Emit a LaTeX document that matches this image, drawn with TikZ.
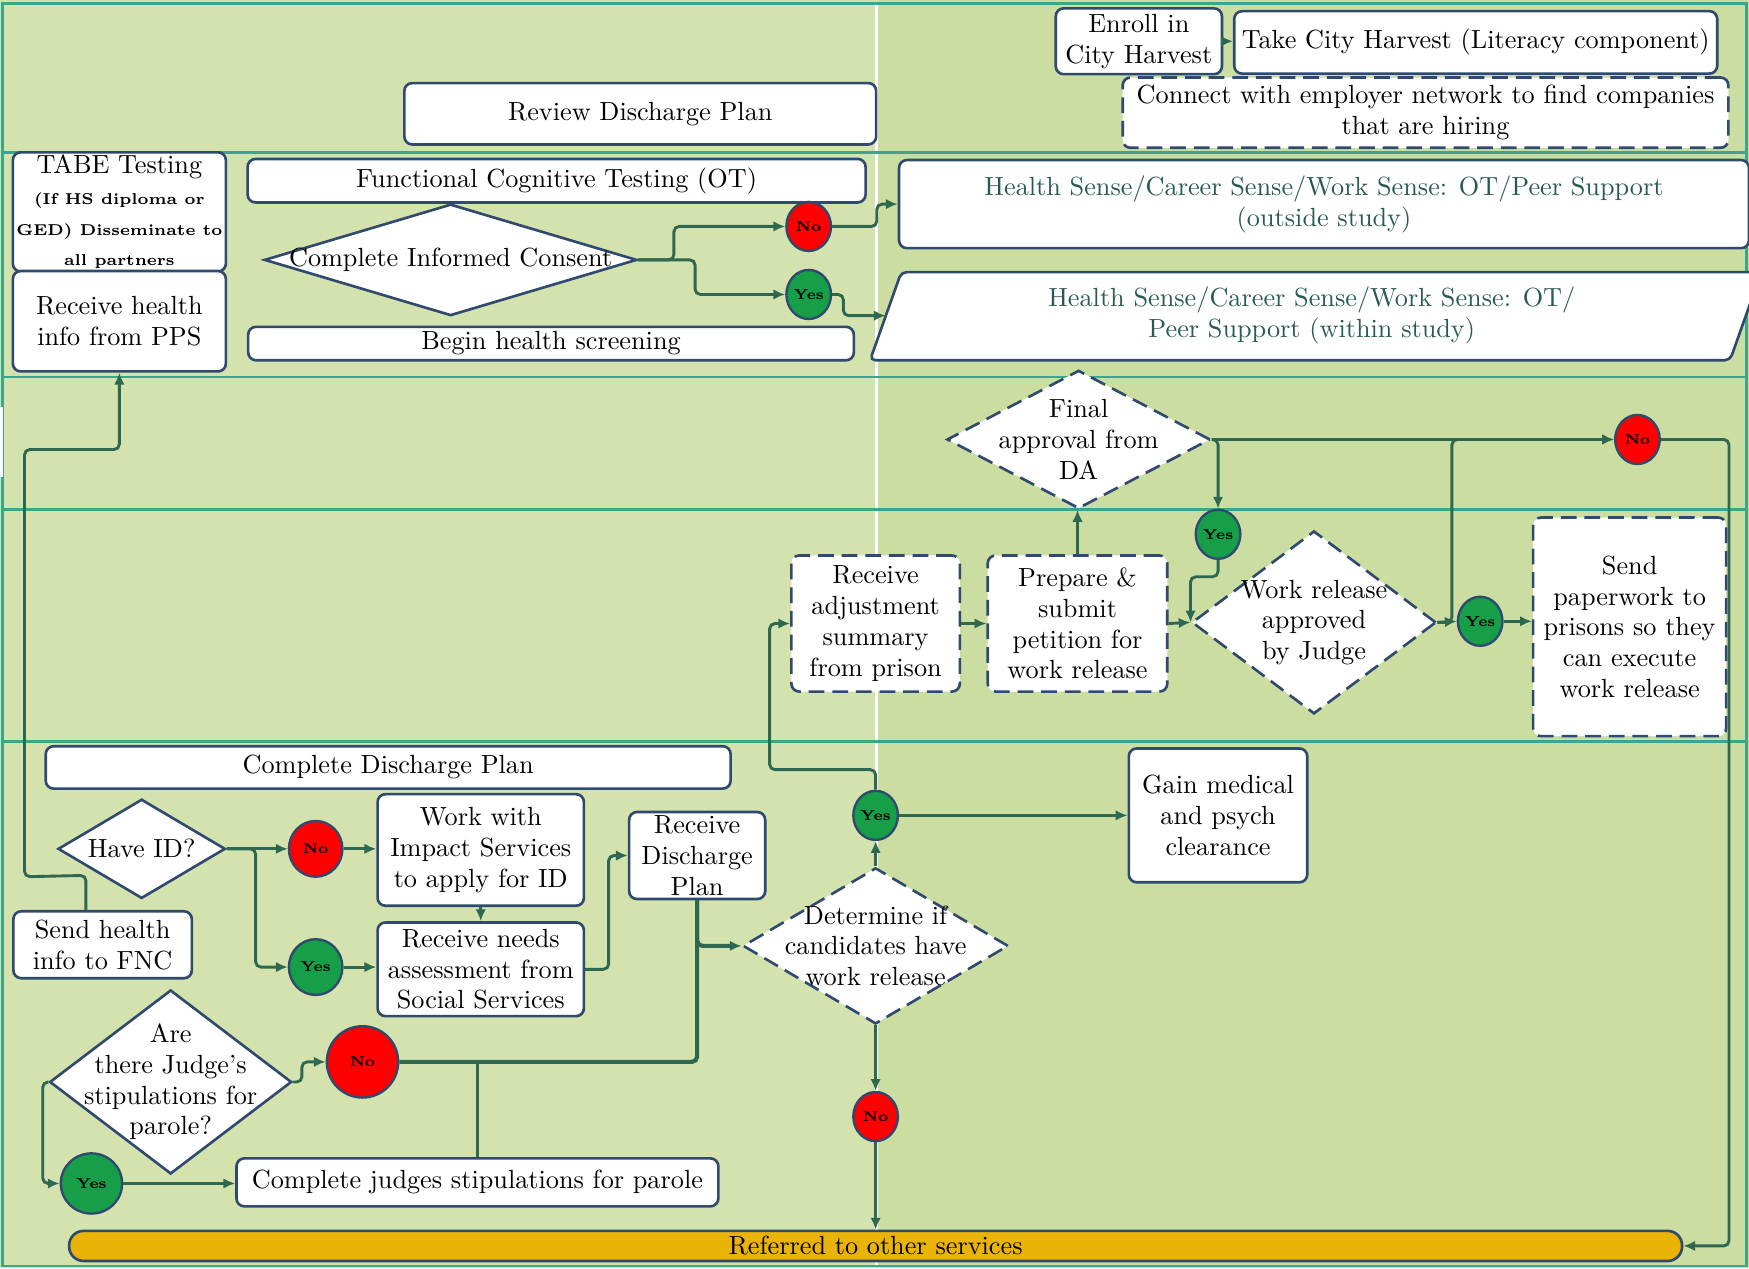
\documentclass[tikz,border=0pt]{standalone}
\usetikzlibrary{shapes.geometric, arrows.meta}

\definecolor{laneleft}{RGB}{212,226,174}
\definecolor{laneright}{RGB}{203,221,160}
\definecolor{laneline}{RGB}{58,166,140}
\definecolor{boxline}{RGB}{47,74,110}
\definecolor{flowgreen}{RGB}{46,104,80}
\definecolor{nored}{RGB}{255,0,0}
\definecolor{yesgreen}{RGB}{22,158,72}
\definecolor{gold}{RGB}{233,179,8}
\definecolor{tealtext}{RGB}{40,90,80}

\newcommand{\dotfont}{\fontsize{5.5}{6}\bfseries\selectfont}
\newcommand{\tabefont}{\fontsize{6}{9}\bfseries\selectfont}

\begin{document}
\begin{tikzpicture}[x=0.425pt, y=-0.425pt,
	every node/.style={font=\fontsize{10}{11.7}\selectfont, align=center, inner sep=1pt},
	sz/.style 2 args={minimum width=#1*0.425pt, minimum height=#2*0.425pt},
	box/.style={draw=boxline, line width=1pt, fill=white, rounded corners=3pt},
	dbox/.style={box, dash pattern=on 6pt off 3pt},
	decide/.style={diamond, draw=boxline, line width=1pt, fill=white, inner sep=0pt},
	ddecide/.style={decide, dash pattern=on 6pt off 3pt},
	dot/.style={ellipse, draw=boxline, line width=0.9pt, inner sep=0pt, font=\dotfont, sz={40}{44}},
	nodot/.style={dot, fill=nored},
	yesdot/.style={dot, fill=yesgreen},
	pill/.style={draw=boxline, line width=1pt, fill=gold, rounded corners=5.5pt},
	link/.style={draw=flowgreen, line width=1.1pt, rounded corners=2pt},
	flow/.style={link, -{Latex[length=4.5pt, width=4pt]}}]
	\useasboundingbox (0,0) rectangle (1568,1137);

	% lanes
	\fill[laneleft] (0,0) rectangle (786,1137);
	\fill[laneright] (786,0) rectangle (1568,1137);
	\draw[white, line width=1.2pt] (786,3) -- (786,1135);
	\draw[laneline, line width=1pt] (2,3) rectangle (1566,1135);
	\foreach \y in {137, 338, 457, 665}
		\draw[laneline, line width=1pt] (2,\y) -- (1566,\y);
	\fill[white] (0,365) rectangle (3,428);

	% top lane
	\node[box, sz={149}{59}] (enroll) at (1021,37) {Enroll in\\City Harvest};
	\node[box, sz={433}{56}] (harvest) at (1323,38) {Take City Harvest (Literacy component)};
	\node[dbox, sz={543}{63}] (employer) at (1278,101) {Connect with employer network to find companies\\that are hiring};
	\node[box, sz={423}{55}] (review) at (574,102) {Review Discharge Plan};

	% testing and consent
	\node[box, sz={191}{94}] (tabe) at (107,190) {TABE Testing\\{\tabefont (If HS diploma or}\\{\tabefont GED) Disseminate to}\\{\tabefont all partners}};
	\node[box, sz={191}{90}] (pps) at (107,288) {Receive health\\info from PPS};
	\node[box, sz={554}{39}] (fct) at (499,162) {Functional Cognitive Testing (OT)};
	\node[decide, sz={334}{100}] (consent) at (404,233) {};
	\node (consent-t) at (consent) {Complete Informed Consent};
	\node[box, sz={543}{30}] (screen) at (494,308) {Begin health screening};
	\node[nodot] (no1) at (725,203) {No};
	\node[yesdot] (yes1) at (725,264) {Yes};
	\node[box, sz={762}{79}, text=tealtext] (outside) at (1187,183) {Health Sense/Career Sense/Work Sense: OT/Peer Support\\(outside study)};
	\draw[boxline, line width=1pt, fill=white, rounded corners=2pt] (780,323) -- (808,244) -- (1579,244) -- (1551,323) -- cycle;
	\node[text=tealtext] (within) at (1176,283) {Health Sense/Career Sense/Work Sense: OT/\\Peer Support (within study)};
	\coordinate (within-in) at (794,283);

	% approvals
	\node[ddecide, sz={236}{124}] (final) at (967,394) {};
	\node (final-t) at (final) {Final\\approval from\\DA};
	\node[nodot] (noda) at (1468,394) {No};
	\node[dbox, sz={151}{122}] (adjust) at (785,559) {Receive\\adjustment\\summary\\from prison};
	\node[dbox, sz={161}{122}] (petition) at (966,559) {Prepare \&\\submit\\petition for\\work release};
	\node[ddecide, sz={219}{164}] (judge) at (1178,558) {};
	\node (judge-t) at (judge) {Work release\\approved\\by Judge};
	\node[yesdot] (yesda) at (1092,479) {Yes};
	\node[yesdot] (yeswr) at (1327,557) {Yes};

	% discharge plan
	\node[box, sz={614}{38}] (cdp) at (348,688) {Complete Discharge Plan};
	\node[decide, sz={150}{89}] (haveid) at (127,761) {};
	\node (haveid-t) at (haveid) {Have ID?};
	\node[box, sz={160}{60}] (fnc) at (92,847) {Send health\\info to FNC};
	\node[nodot, sz={48}{50}] (noid) at (283,761) {No};
	\node[yesdot, sz={48}{50}] (yesid) at (283,867) {Yes};
	\node[box, sz={185}{100}] (impact) at (431,762) {Work with\\Impact Services\\to apply for ID};
	\node[box, sz={185}{84}] (needs) at (431,869) {Receive needs\\assessment from\\Social Services};
	\node[box, sz={122}{78}] (rdp) at (625,767) {Receive\\Discharge\\Plan};
	\node[ddecide, sz={238}{140}] (determine) at (785,848) {};
	\node (determine-t) at (determine) {Determine if\\candidates have\\work release};
	\node[yesdot] (yesdet) at (785,731) {Yes};
	\node[box, sz={160}{120}] (medical) at (1092,731) {Gain medical\\and psych\\clearance};
	\node[nodot] (nodet) at (785,1001) {No};
	\node[decide, sz={217}{165}] (stip) at (153,970) {};
	\node (stip-t) at (stip) {Are\\there Judge's\\stipulations for\\parole?};
	\node[nodot, sz={64}{64}] (nostip) at (325,952) {No};
	\node[yesdot, sz={55}{54}] (yesstip) at (82,1061) {Yes};
	\node[box, sz={432}{43}] (cjs) at (428,1060) {Complete judges stipulations for parole};
	\node[pill, sz={1446}{27}] (referred) at (785,1117) {Referred to other services};

	% connectors
	\draw[flow] (enroll.east) -- (enroll.east -| harvest.west);
	\draw[flow] (consent.east) -- ++(32,0) |- (no1.west);
	\draw[flow] (consent.east) -- ++(51,0) |- (yes1.west);
	\draw[flow] (no1.east) -- ++(40,0) |- (outside.west);
	\draw[flow] (yes1.east) -- ++(10,0) |- (within-in);

	\draw[flow] (petition.north) -- (petition.north |- final.south);
	\draw[flow] (final.east) -- (final.east -| noda.west);
	\draw[flow] (final.east) -| (yesda.north);
	\draw[flow] (yesda.south) -- ++(0,15) -| (judge.west);
	\draw[flow] (adjust.east) -- (petition.west);
	\draw[flow] (petition.east) -- (judge.west);
	\draw[flow] (judge.east) -- (yeswr.west);
	\draw[flow] (judge.east) -- ++(13,0) |- (noda.west);
	\draw[flow] (noda.east) -- ++(61,0) |- (referred.east);

	% box drawn over the return line
	\node[dbox, sz={173}{196}] (paper) at (1461,562) {Send\\paperwork to\\prisons so they\\can execute\\work release};
	\draw[flow] (yeswr.east) -- (yeswr.east -| paper.west);

	\draw[flow] ([xshift=-15*0.425pt]fnc.north) -- ++(0,-31) -- (22,786) -- (22,403) -| (pps.south);
	\draw[flow] (haveid.east) -- (noid.west);
	\draw[flow] (haveid.east) -- ++(26,0) |- (yesid.west);
	\draw[flow] (noid.east) -- (noid.east -| impact.west);
	\draw[flow] (yesid.east) -- (yesid.east -| needs.west);
	\draw[flow] (impact.south) -- (needs.north);
	\draw[flow] (needs.east) -- ++(21,0) |- (rdp.west);
	\draw[flow, line width=1.6pt] (rdp.south) |- (determine.west);
	\draw[link, line width=1.6pt] (nostip.east) -| (rdp.south);
	\draw[link] (cjs.north) -- (cjs.north |- nostip.east);
	\draw[flow] (stip.east) -- ++(8,0) |- (nostip.west);
	\draw[flow] (stip.west) -- ++(-5,0) |- (yesstip.west);
	\draw[flow] (yesstip.east) -- (yesstip.east -| cjs.west);
	\draw[flow] (determine.north) -- (yesdet.south);
	\draw[flow] (yesdet.east) -- (medical.west);
	\draw[flow] (yesdet.north) |- (690,690) |- (adjust.west);
	\draw[flow] (determine.south) -- (nodet.north);
	\draw[flow] (nodet.south) -- (nodet.south |- referred.north);
\end{tikzpicture}
\end{document}
